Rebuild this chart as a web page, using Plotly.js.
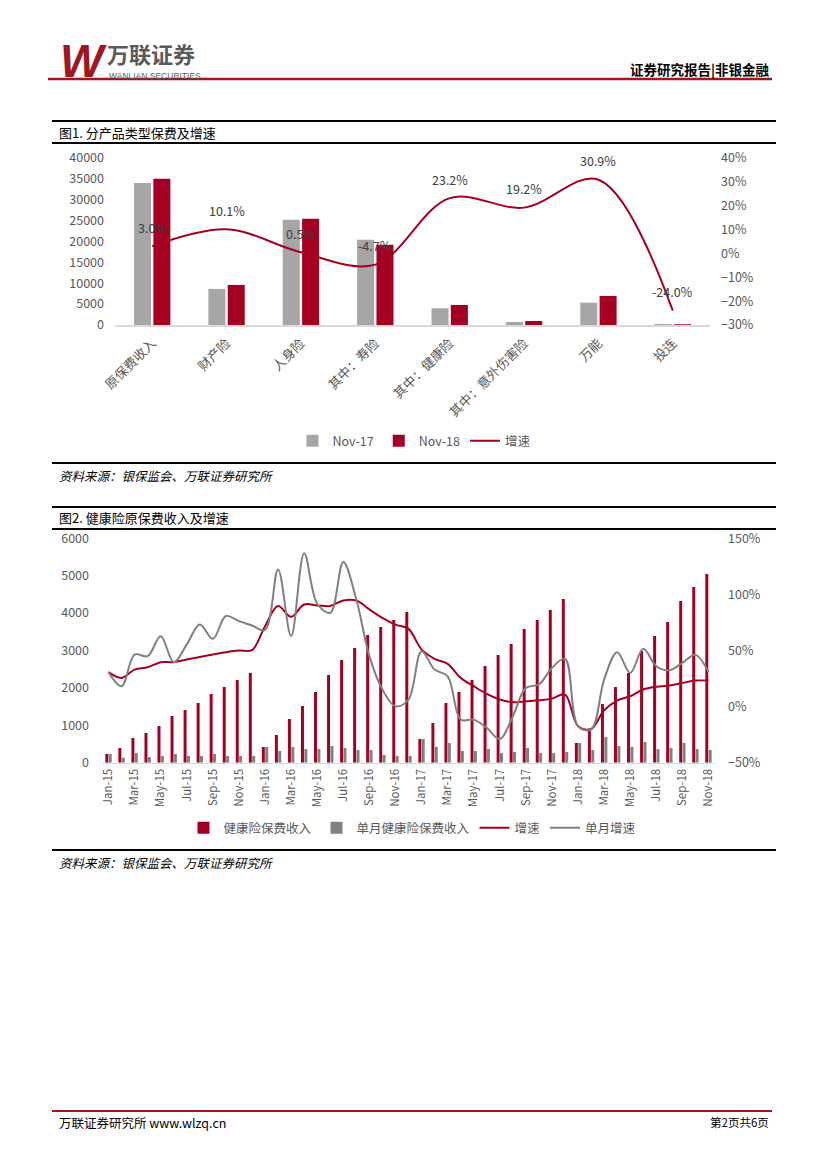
<!DOCTYPE html>
<html><head><meta charset="utf-8">
<script src="https://cdn.plot.ly/plotly-3.0.1.min.js"></script>
<style>html,body{margin:0;padding:0;background:#fff;} #page{width:827px;height:1169px;}</style>
</head><body><div id="page"></div>
<script>
// ---------- Chart 1 data ----------
const cats1 = ['原保费收入','财产险','人身险','其中：寿险','其中：健康险','其中：意外伤害险','万能','投连'];
const nov17 = [34000, 8640, 25200, 20400, 4000, 720, 5350, 240];
const nov18 = [35040, 9600, 25440, 19200, 4800, 960, 6960, 182];
const growth1 = [3.0, 10.1, 0.5, -4.7, 23.2, 19.2, 30.9, -24.0];
const growth1Labels = ['3.0%','10.1%','0.5%','-4.7%','23.2%','19.2%','30.9%','-24.0%'];
const legend1Names = ['Nov-17','Nov-18','增速'];

// ---------- Chart 2 data ----------
const months = [
 'Jan-15','Feb-15','Mar-15','Apr-15','May-15','Jun-15','Jul-15','Aug-15','Sep-15','Oct-15','Nov-15','Dec-15',
 'Jan-16','Feb-16','Mar-16','Apr-16','May-16','Jun-16','Jul-16','Aug-16','Sep-16','Oct-16','Nov-16','Dec-16',
 'Jan-17','Feb-17','Mar-17','Apr-17','May-17','Jun-17','Jul-17','Aug-17','Sep-17','Oct-17','Nov-17','Dec-17',
 'Jan-18','Feb-18','Mar-18','Apr-18','May-18','Jun-18','Jul-18','Aug-18','Sep-18','Oct-18','Nov-18'];
const monthTicks = ['Jan-15','Mar-15','May-15','Jul-15','Sep-15','Nov-15','Jan-16','Mar-16','May-16','Jul-16','Sep-16','Nov-16',
 'Jan-17','Mar-17','May-17','Jul-17','Sep-17','Nov-17','Jan-18','Mar-18','May-18','Jul-18','Sep-18','Nov-18'];
const healthCum = [
 232,392,660,793,981,1248,1409,1596,1836,2024,2211,2398,
 419,740,1168,1516,1890,2345,2746,3067,3414,3628,3816,4030,
 633,1061,1596,1890,2211,2585,2880,3174,3575,3816,4083,4377,
 526,874,1569,2024,2398,2987,3388,3762,4324,4698,5046];
const healthMonth = [
 232,134,259,152,178,232,178,178,232,178,178,178,
 419,312,419,366,366,446,392,339,339,205,178,178,
 633,419,526,312,312,366,259,285,392,259,259,285,
 526,339,686,446,419,553,366,392,526,366,339];
const growthCum = [
 30.7,25.6,33.0,35.0,39.6,39.6,42.0,44.3,46.4,48.5,50.0,50.3,
 71.7,89.6,80.0,91.0,90.2,89.6,94.6,94.6,86.6,79.0,73.0,69.3,
 51.0,42.6,38.1,25.6,18.2,11.3,6.3,3.9,4.8,5.7,7.1,10.7,
 -17.5,-19.9,-3.3,5.4,9.2,15.2,17.6,18.8,21.1,23.2,23.2];
const growthMonth = [
 30.7,18.2,46.4,45.0,62.8,39.6,55.4,73.2,60.4,80.7,76.2,72.3,
 68.2,122.3,62.8,136.6,91.7,83.6,128.9,95.5,45.0,15.2,0.3,6.3,
 49.4,33.0,27.0,-11.6,-11.6,-19.0,-28.9,-8.6,16.7,19.7,34.5,42.6,
 -17.5,-20.5,24.1,48.5,30.0,51.5,36.0,32.4,39.0,46.1,30.7];
const legend2Names = ['健康险保费收入','单月健康险保费收入','增速','单月增速'];

// ---------- styling ----------
const W = 827, H = 1169;
const px = x => x / W, py = y => 1 - y / H;
const RED = '#A50021', GRAY1 = '#A6A6A6', GRAY2 = '#808080', TXT = '#595959';
const FONT = '"Noto Sans CJK SC","Noto Sans",sans-serif';

const traces = [
  {type:'bar', name:legend1Names[0], x:cats1, y:nov17, marker:{color:GRAY1}, xaxis:'x', yaxis:'y', legend:'legend'},
  {type:'bar', name:legend1Names[1], x:cats1, y:nov18, marker:{color:RED}, xaxis:'x', yaxis:'y', legend:'legend'},
  {type:'scatter', mode:'lines', name:legend1Names[2], x:cats1, y:growth1, line:{color:RED, width:2, shape:'spline', smoothing:1}, xaxis:'x', yaxis:'y2', legend:'legend'},
  {type:'bar', name:legend2Names[0], x:months, y:healthCum, marker:{color:RED}, xaxis:'x2', yaxis:'y3', legend:'legend2'},
  {type:'bar', name:legend2Names[1], x:months, y:healthMonth, marker:{color:GRAY2}, xaxis:'x2', yaxis:'y3', legend:'legend2'},
  {type:'scatter', mode:'lines', name:legend2Names[2], x:months, y:growthCum, line:{color:RED, width:2, shape:'spline', smoothing:1}, xaxis:'x2', yaxis:'y4', legend:'legend2'},
  {type:'scatter', mode:'lines', name:legend2Names[3], x:months, y:growthMonth, line:{color:GRAY2, width:2, shape:'spline', smoothing:1}, xaxis:'x2', yaxis:'y4', legend:'legend2'}
];

const tickFont = {family:FONT, size:12.5, color:TXT};

const ann = [];
function txt(text, x, y, size, opts) {
  ann.push(Object.assign({xref:'paper', yref:'paper', x:px(x), y:py(y), text:text, showarrow:false,
    xanchor:'left', yanchor:'middle', font:{family:FONT, size:size, color:'#000'}}, opts||{}));
}
// header
txt('<b><i>W</i></b>', 58, 61, 44, {font:{family:'"Liberation Sans",Arial,sans-serif', size:46, color:'#A0171F'}});
txt('<b>万联证券</b>', 106, 53, 22, {font:{family:FONT, size:22, color:'#5A5A5A'}, borderpad:0});
txt('WANLIAN SECURITIES', 108, 76, 8.5, {font:{family:'"Liberation Sans",Arial,sans-serif', size:8.5, color:'#5A5A5A'}, borderpad:0});
txt('<b>证券研究报告|非银金融</b>', 771, 69, 13.5, {xanchor:'right'});
// chart titles & sources
txt('图1. 分产品类型保费及增速', 57, 132, 13);
txt('<i>资料来源：银保监会、万联证券研究所</i>', 57, 475, 12.5);
txt('图2. 健康险原保费收入及增速', 57, 518, 13);
txt('<i>资料来源：银保监会、万联证券研究所</i>', 57, 862, 12.5);
// footer
txt('万联证券研究所 www.wlzq.cn', 57, 1122, 12.5);
txt('第2页共6页', 771, 1122, 11.5, {xanchor:'right'});
// data labels chart 1
cats1.forEach((c,i) => ann.push({xref:'x', yref:'y2', x:c, y:growth1[i], text:growth1Labels[i], showarrow:false,
  yshift:19, font:{family:FONT, size:12.5, color:'#404040'}}));

const hline = (y, x0, x1, w, c) => ({type:'line', xref:'paper', yref:'paper', x0:px(x0), x1:px(x1), y0:py(y), y1:py(y), line:{color:c, width:w}});
const shapes = [
  hline(79, 48, 772, 2.5, '#A0171F'),
  hline(121, 52, 776, 2, '#000'), hline(143, 52, 776, 2, '#000'), hline(463, 52, 776, 2, '#000'),
  hline(507, 52, 776, 2, '#000'), hline(529, 52, 776, 2, '#000'), hline(850, 52, 776, 2, '#000'),
  hline(1111, 52, 772, 2, '#A0171F')
];

const layout = {
  width:W, height:H, margin:{l:0,r:0,t:0,b:0}, paper_bgcolor:'#fff', plot_bgcolor:'rgba(0,0,0,0)',
  font:{family:FONT, color:TXT}, hovermode:false, barmode:'group', bargap:0.48, bargroupgap:0.12,
  xaxis:{domain:[px(115), px(710)], anchor:'y', type:'category', tickangle:-45, tickfont:{family:FONT, size:13, color:TXT},
    showline:true, linecolor:'#D9D9D9', linewidth:1.5, ticks:'', showgrid:false, zeroline:false, ticklabelstandoff:4},
  yaxis:{domain:[py(325), py(158)], anchor:'x', range:[0,40000], dtick:5000, tickformat:'d', tickfont:tickFont,
    showgrid:false, zeroline:false, showline:false, ticks:'', ticklabelstandoff:10},
  yaxis2:{overlaying:'y', side:'right', anchor:'x', range:[-30,40], dtick:10, ticksuffix:'%', tickfont:tickFont,
    showgrid:false, zeroline:false, showline:false, ticks:'', ticklabelstandoff:10},
  xaxis2:{domain:[px(102), px(715)], anchor:'y3', type:'category', tickmode:'array', tickvals:monthTicks, ticktext:monthTicks,
    tickangle:-90, tickfont:{family:FONT, size:11.5, color:TXT}, showline:true, linecolor:'#D9D9D9', linewidth:1.5,
    ticks:'', showgrid:false, zeroline:false},
  yaxis3:{domain:[py(762.7), py(538.3)], anchor:'x2', range:[0,6000], dtick:1000, tickformat:'d', tickfont:tickFont,
    showgrid:false, zeroline:false, showline:false, ticks:'', ticklabelstandoff:12},
  yaxis4:{overlaying:'y3', side:'right', anchor:'x2', range:[-50,150], dtick:50, ticksuffix:'%', tickfont:tickFont,
    showgrid:false, zeroline:false, showline:false, ticks:'', ticklabelstandoff:12},
  legend:{orientation:'h', x:px(414), xanchor:'center', y:py(441), yanchor:'middle', font:{family:FONT, size:12.5, color:TXT}, bgcolor:'rgba(0,0,0,0)'},
  legend2:{orientation:'h', x:px(412), xanchor:'center', y:py(828), yanchor:'middle', font:{family:FONT, size:12.5, color:TXT}, bgcolor:'rgba(0,0,0,0)'},
  annotations:ann, shapes:shapes, showlegend:true
};

Plotly.newPlot('page', traces, layout, {staticPlot:true, displayModeBar:false});
</script></body></html>
